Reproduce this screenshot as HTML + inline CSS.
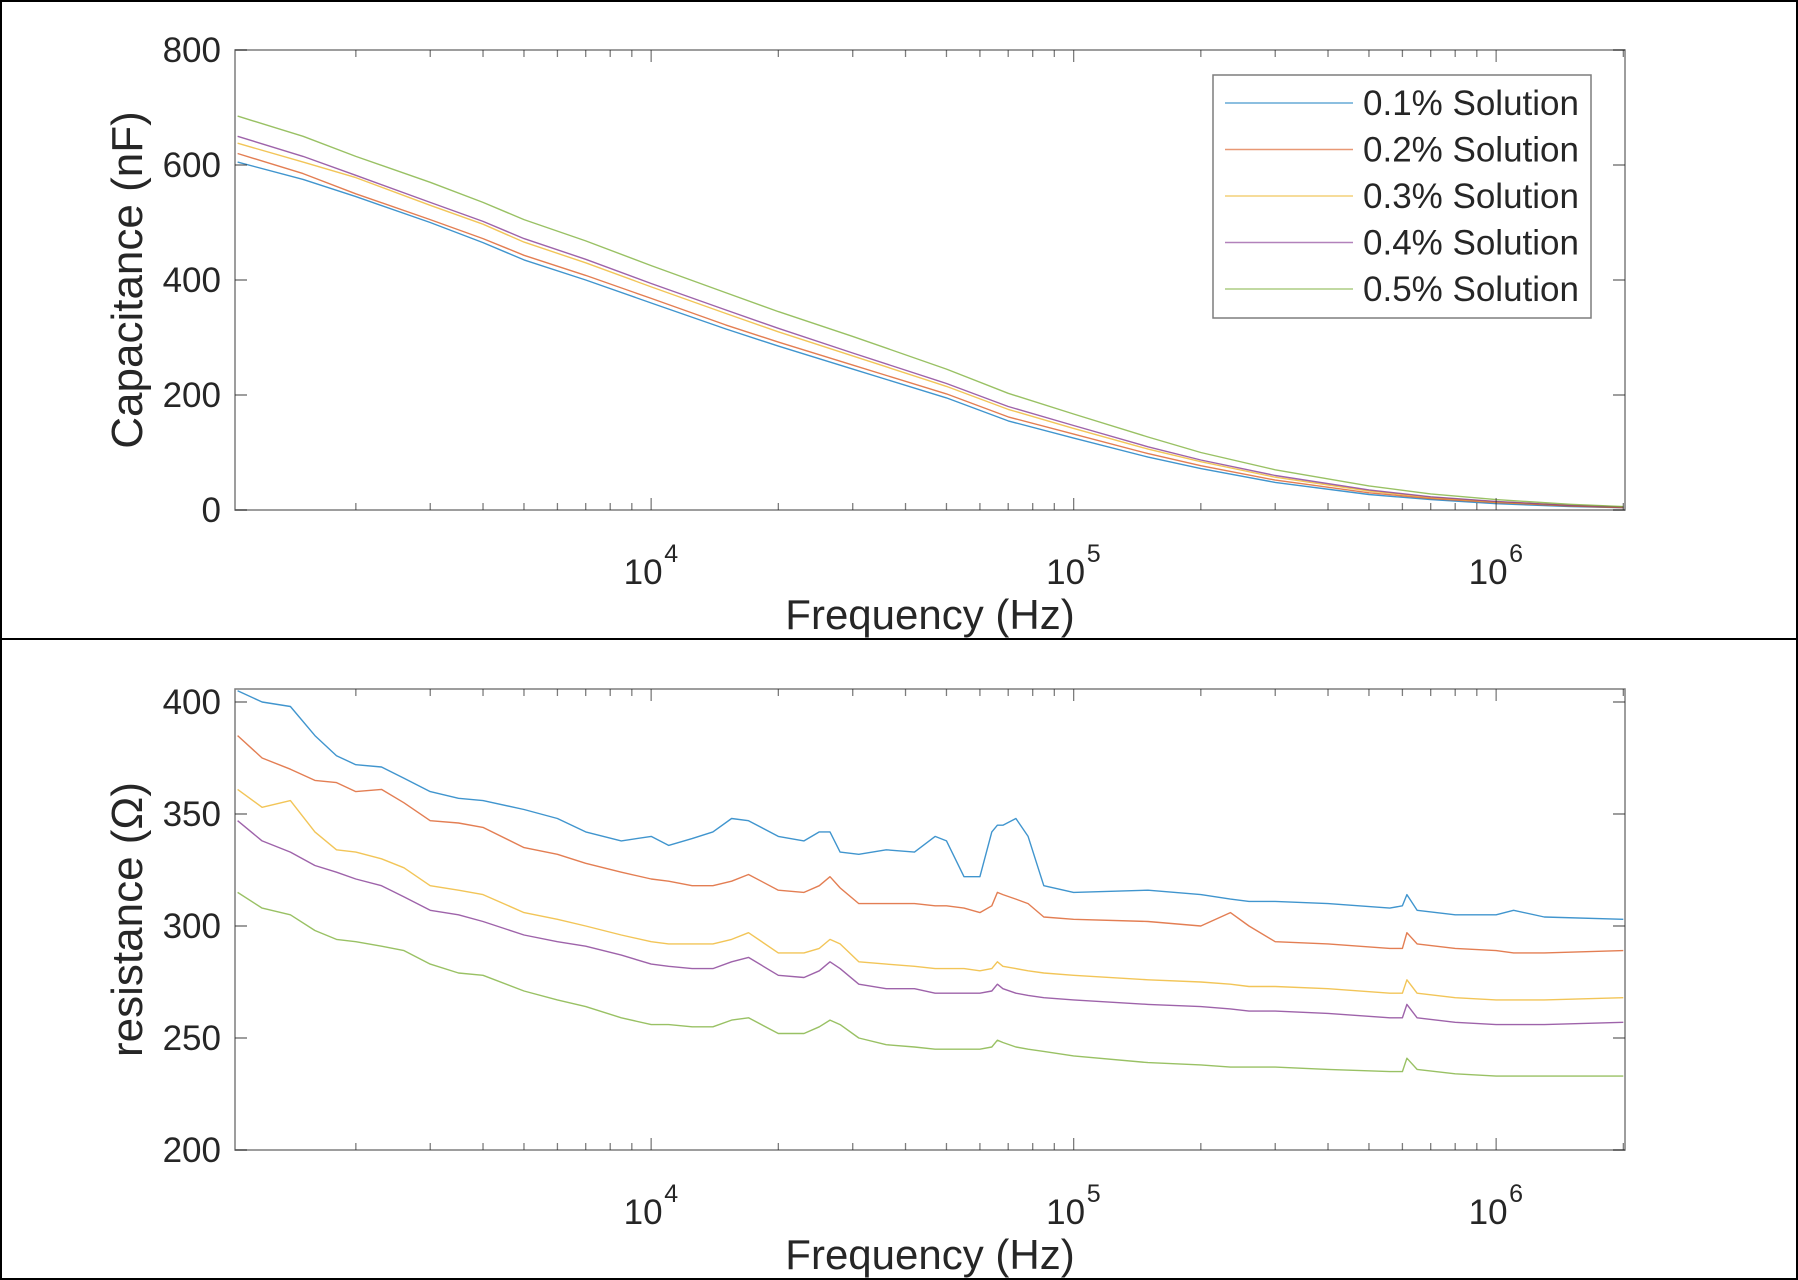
<!DOCTYPE html>
<html><head><meta charset="utf-8"><style>
html,body{margin:0;padding:0;background:#fff}
svg{display:block;font-family:"Liberation Sans",Arial,sans-serif}
</style></head><body>
<svg id="chart" width="1798" height="1280" viewBox="0 0 1798 1280">
<rect x="1" y="1" width="1796" height="1278" fill="#fff" stroke="#000" stroke-width="2"/>
<line x1="0" y1="639" x2="1798" y2="639" stroke="#000" stroke-width="2"/>
<g id="topPanel"></g>
<g id="botPanel"></g>
</svg>
<script>
const seriesNames = ["0.1% Solution","0.2% Solution","0.3% Solution","0.4% Solution","0.5% Solution"];
const colors = ["#0072BD","#D95319","#EDB120","#7E2F8E","#77AC30"];
const capFreq = [1050,1500,2000,3000,4000,5000,7000,10000,15000,20000,30000,50000,70000,100000,150000,200000,300000,500000,700000,1000000,1500000,2000000];
const capS1 = [605,575,545,500,465,435,400,360,315,285,245,195,155,125,92,72,48,27,18,11,6,4];
const capS2 = [620,585,550,505,472,443,408,368,322,292,252,202,162,132,98,77,52,30,20,13,7,4];
const capS3 = [638,605,578,530,497,466,430,388,342,310,268,215,175,142,106,84,57,33,22,14,8,5];
const capS4 = [650,615,582,535,502,472,436,394,348,316,273,220,180,147,110,87,60,35,23,15,8,5];
const capS5 = [685,650,615,570,535,505,468,425,378,345,302,245,203,167,127,100,70,42,28,18,10,6];
const resFreq = [1050,1200,1400,1600,1800,2000,2300,2600,3000,3500,4000,5000,6000,7000,8500,10000,11000,12500,14000,15500,17000,20000,23000,25000,26500,28000,31000,36000,42000,47000,50000,55000,60000,64000,66000,68000,73000,78000,85000,100000,150000,200000,235000,260000,300000,400000,560000,600000,615000,650000,800000,1000000,1100000,1300000,2000000];
const resS1 = [405,400,398,385,376,372,371,366,360,357,356,352,348,342,338,340,336,339,342,348,347,340,338,342,342,333,332,334,333,340,338,322,322,342,345,345,348,340,318,315,316,314,312,311,311,310,308,309,314,307,305,305,307,304,303];
const resS2 = [385,375,370,365,364,360,361,355,347,346,344,335,332,328,324,321,320,318,318,320,323,316,315,318,322,317,310,310,310,309,309,308,306,309,315,314,312,310,304,303,302,300,306,300,293,292,290,290,297,292,290,289,288,288,289];
const resS3 = [361,353,356,342,334,333,330,326,318,316,314,306,303,300,296,293,292,292,292,294,297,288,288,290,294,292,284,283,282,281,281,281,280,281,284,282,281,280,279,278,276,275,274,273,273,272,270,270,276,270,268,267,267,267,268];
const resS4 = [347,338,333,327,324,321,318,313,307,305,302,296,293,291,287,283,282,281,281,284,286,278,277,280,284,281,274,272,272,270,270,270,270,271,274,272,270,269,268,267,265,264,263,262,262,261,259,259,265,259,257,256,256,256,257];
const resS5 = [315,308,305,298,294,293,291,289,283,279,278,271,267,264,259,256,256,255,255,258,259,252,252,255,258,256,250,247,246,245,245,245,245,246,249,248,246,245,244,242,239,238,237,237,237,236,235,235,241,236,234,233,233,233,233];
const capTicks = [0,200,400,600,800];
const resTicks = [200,250,300,350,400];
const decadeTicks = [4,5,6];

const NS="http://www.w3.org/2000/svg";
function mk(parent,tag,attrs){const e=document.createElementNS(NS,tag);for(const k in attrs)e.setAttribute(k,attrs[k]);parent.appendChild(e);return e;}
const AX_L=235,AX_R=1625,lmin=3.015,lmax=6.305;
const xs=f=>AX_L+(Math.log10(f)-lmin)/(lmax-lmin)*(AX_R-AX_L);

function panel(g,T,B,ymin,ymax,ticks,freq,series,ylabel){
  const ys=v=>B-(v-ymin)/(ymax-ymin)*(B-T);
  const ax="#262626";
  series.forEach((s,i)=>{
    const p=mk(g,"polyline",{points:s.map((v,j)=>xs(freq[j]).toFixed(1)+","+ys(v).toFixed(1)).join(" "),fill:"none",stroke:colors[i],"stroke-width":1.4,"stroke-opacity":0.75,"stroke-linejoin":"round"});
    
    
  });
  const b=mk(g,"rect",{x:AX_L,y:T,width:AX_R-AX_L,height:B-T,fill:"none",stroke:ax,"stroke-opacity":0.6,"stroke-width":1.5});
  
  
  ticks.forEach(t=>{
    const y=ys(t);
    mk(g,"line",{x1:AX_L,y1:y,x2:AX_L+12,y2:y,stroke:ax,"stroke-width":1.5,"stroke-opacity":0.6});
    mk(g,"line",{x1:AX_R,y1:y,x2:AX_R-12,y2:y,stroke:ax,"stroke-width":1.5,"stroke-opacity":0.6});
    const tx=mk(g,"text",{x:AX_L-14,y:y+12,"text-anchor":"end","font-size":35,fill:ax});
    tx.textContent=t;
    
    
  });
  for(let d=3;d<=6;d++){for(let m=1;m<10;m++){const f=m*Math.pow(10,d);const lf=Math.log10(f);if(lf<lmin||lf>lmax)continue;const x=xs(f);const len=m===1?12:7;
    mk(g,"line",{x1:x,y1:B,x2:x,y2:B-len,stroke:ax,"stroke-width":1.3,"stroke-opacity":0.6});
    mk(g,"line",{x1:x,y1:T,x2:x,y2:T+len,stroke:ax,"stroke-width":1.3,"stroke-opacity":0.6});}}
  decadeTicks.forEach(d=>{
    const x=xs(Math.pow(10,d));
    const tx=mk(g,"text",{x:x-8,y:B+74,"text-anchor":"middle","font-size":35,fill:ax});
    tx.textContent="10";
    
    
    const sp=mk(g,"text",{x:x+20,y:B+52,"text-anchor":"middle","font-size":25,fill:ax});
    sp.textContent=d;
    
    
  });
  const xl=mk(g,"text",{x:930,y:B+119,"text-anchor":"middle","font-size":42,fill:ax});
  xl.textContent="Frequency (Hz)";
  
  
  const cy=(T+B)/2;
  const yl=mk(g,"text",{x:142,y:cy,"text-anchor":"middle","font-size":44,fill:ax,transform:"rotate(-90 142 "+cy+")"});
  yl.textContent=ylabel;
  
  
}
const topG=document.getElementById("topPanel"),botG=document.getElementById("botPanel");
panel(topG,50,510,0,800,capTicks,capFreq,[capS1,capS2,capS3,capS4,capS5],"Capacitance (nF)");
panel(botG,689,1150,200,405.8,resTicks,resFreq,[resS1,resS2,resS3,resS4,resS5],"resistance (\u03A9)");
const lg=mk(topG,"g",{});


mk(lg,"rect",{x:1213,y:75,width:378,height:243,fill:"#fff",stroke:"#262626","stroke-opacity":0.6,"stroke-width":1.5});
seriesNames.forEach((n,i)=>{
  const y=103+i*46.5;
  const e=mk(lg,"g",{});
  
  
  mk(e,"line",{x1:1225,y1:y,x2:1353,y2:y,stroke:colors[i],"stroke-width":1.5,"stroke-opacity":0.6});
  const t=mk(e,"text",{x:1363,y:y+12,"font-size":35,fill:"#262626"});
  t.textContent=n;
});
</script>
</body></html>
